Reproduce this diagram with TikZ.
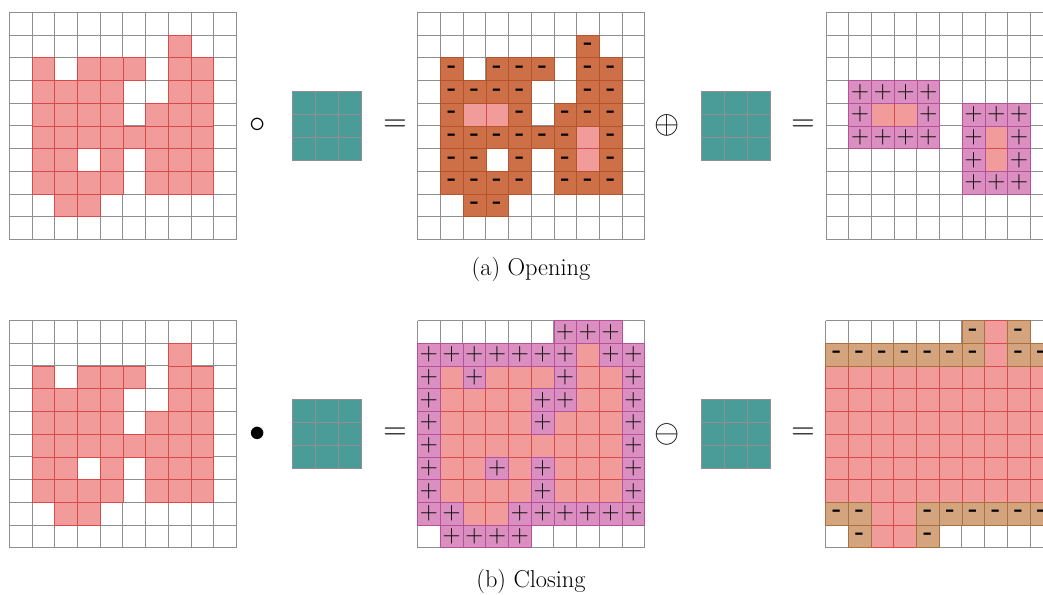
\documentclass[tikz,border=0pt]{standalone}
\usepackage{fontspec}
\definecolor{pinkc}{HTML}{F19B9B}
\definecolor{pinkline}{HTML}{D94A4A}
\definecolor{orangec}{HTML}{CD7048}
\definecolor{orangeline}{HTML}{B4532C}
\definecolor{magc}{HTML}{DB8FC0}
\definecolor{magline}{HTML}{B5519A}
\definecolor{tanc}{HTML}{D4A47E}
\definecolor{tanline}{HTML}{A8713F}
\definecolor{tealc}{HTML}{4A9C98}
\definecolor{gridc}{HTML}{8F8F8F}
\newcommand\cs{22.72}
\tikzset{
  gridline/.style={draw=gridc, line width=0.9pt},
  pinkcell/.style={fill=pinkc, draw=pinkline, line width=0.6pt},
  minuscell/.style={fill=orangec, draw=orangeline, line width=0.6pt},
  pluscell/.style={fill=magc, draw=magline, line width=0.6pt},
  tancell/.style={fill=tanc, draw=tanline, line width=0.6pt},
  secell/.style={fill=tealc, draw=gridc, line width=0.9pt},
  marktext/.style={inner sep=0pt, font=\fontsize{24}{24}\selectfont\bfseries, text=black},
  optext/.style={inner sep=0pt, font=\fontsize{24.88}{25}\selectfont, scale=1.3},
  captext/.style={inner sep=0pt, font=\fontsize{24.4}{29}\selectfont}
}
% grid lines: #1 x, #2 y
\newcommand\mygridlines[2]{%
  \foreach \k in {0,...,10}{
    \draw[gridline] ({#1+\k*\cs},{#2}) -- ({#1+\k*\cs},{#2+10*\cs});
    \draw[gridline] ({#1},{#2+\k*\cs}) -- ({#1+10*\cs},{#2+\k*\cs});
  }}
% cells: #1 x, #2 y, #3 style, #4 list macro
\newcommand\mycellfill[4]{%
  \foreach \ci/\cj in #4{
    \path[#3] ({#1+\ci*\cs},{#2+\cj*\cs}) rectangle ++(\cs,\cs);
  }}
% marks: #1 x, #2 y, #3 text, #4 list macro, #5 name prefix
\newcommand\mycellmarks[5]{%
  \foreach \ci/\cj in #4{
    \node[marktext] (#5-\ci-\cj) at ({#1+(\ci+0.5)*\cs},{#2+(\cj+0.5)*\cs}) {#3};
  }}
\newcommand\mystrel[3]{%
  \foreach \ci in {0,1,2}{\foreach \cj in {0,1,2}{
    \path[secell] ({#1+\ci*23},{#2+\cj*23}) rectangle ++(23,23);
  }}
  \coordinate (#3) at ({#1+34.5},{#2+34.5});}
\newcommand\Aset{7/1, 1/2,3/2,4/2,5/2,7/2,8/2, 1/3,2/3,3/3,4/3,7/3,8/3, 1/4,2/4,3/4,4/4,6/4,7/4,8/4, 1/5,2/5,3/5,4/5,5/5,6/5,7/5,8/5, 1/6,2/6,4/6,6/6,7/6,8/6, 1/7,2/7,3/7,4/7,6/7,7/7,8/7, 2/8,3/8}
\newcommand\Eset{2/4,3/4,7/5,7/6}
\newcommand\Erem{7/1, 1/2,3/2,4/2,5/2,7/2,8/2, 1/3,2/3,3/3,4/3,7/3,8/3, 1/4,4/4,6/4,7/4,8/4, 1/5,2/5,3/5,4/5,5/5,6/5,8/5, 1/6,2/6,4/6,6/6,8/6, 1/7,2/7,3/7,4/7,6/7,7/7,8/7, 2/8,3/8}
\newcommand\Oadd{1/3,2/3,3/3,4/3, 1/4,4/4, 1/5,2/5,3/5,4/5, 6/4,7/4,8/4, 6/5,8/5, 6/6,8/6, 6/7,7/7,8/7}
\newcommand\Cadd{6/0,7/0,8/0, 0/1,1/1,2/1,3/1,4/1,5/1,6/1,8/1,9/1, 0/2,2/2,6/2,9/2, 0/3,5/3,6/3,9/3, 0/4,5/4,9/4, 0/5,9/5, 0/6,3/6,5/6,9/6, 0/7,5/7,9/7, 0/8,1/8,4/8,5/8,6/8,7/8,8/8,9/8, 1/9,2/9,3/9,4/9}
\newcommand\Cpink{7/0, 7/1, 0/2,1/2,2/2,3/2,4/2,5/2,6/2,7/2,8/2,9/2, 0/3,1/3,2/3,3/3,4/3,5/3,6/3,7/3,8/3,9/3, 0/4,1/4,2/4,3/4,4/4,5/4,6/4,7/4,8/4,9/4, 0/5,1/5,2/5,3/5,4/5,5/5,6/5,7/5,8/5,9/5, 0/6,1/6,2/6,3/6,4/6,5/6,6/6,7/6,8/6,9/6, 0/7,1/7,2/7,3/7,4/7,5/7,6/7,7/7,8/7,9/7, 2/8,3/8, 2/9,3/9}
\newcommand\Crem{6/0,8/0, 0/1,1/1,2/1,3/1,4/1,5/1,6/1,8/1,9/1, 0/8,1/8,4/8,5/8,6/8,7/8,8/8,9/8, 1/9,4/9}
\begin{document}
\begin{tikzpicture}[x=1pt,y=-1pt]
\useasboundingbox (0,0) rectangle (1043,594);
\begin{scope}
\clip (0,0) rectangle (1043,594);
% ---- (a) Opening ----
\mygridlines{9.3}{12.3}
\mycellfill{9.3}{12.3}{pinkcell}{\Aset}
\mygridlines{417.7}{12.3}
\mycellfill{417.7}{12.3}{pinkcell}{\Eset}
\mycellfill{417.7}{12.3}{minuscell}{\Erem}
\mycellmarks{417.7}{12.3}{-}{\Erem}{em}
\mygridlines{826}{12.3}
\mycellfill{826}{12.3}{pinkcell}{\Eset}
\mycellfill{826}{12.3}{pluscell}{\Oadd}
\mycellmarks{826}{12.3}{$+$}{\Oadd}{op}
\mystrel{292.5}{91.2}{se1}
\mystrel{701}{91.2}{se2}
% ---- (b) Closing ----
\mygridlines{9.3}{320.5}
\mycellfill{9.3}{320.5}{pinkcell}{\Aset}
\mygridlines{417.5}{320.5}
\mycellfill{417.5}{320.5}{pinkcell}{\Aset}
\mycellfill{417.5}{320.5}{pluscell}{\Cadd}
\mycellmarks{417.5}{320.5}{$+$}{\Cadd}{cl}
\mygridlines{825.5}{320.5}
\mycellfill{825.5}{320.5}{pinkcell}{\Cpink}
\mycellfill{825.5}{320.5}{tancell}{\Crem}
\mycellmarks{825.5}{320.5}{-}{\Crem}{cm}
\mystrel{292.5}{399.5}{se3}
\mystrel{701}{399.5}{se4}
\end{scope}
% operators
\node[optext] (op1) at (258,125.7) {$\circ$};
\node[optext] (eq1) at (395,125.7) {$=$};
\node[optext] (op2) at (667,125.7) {$\oplus$};
\node[optext] (eq2) at (803,125.7) {$=$};
\node[optext] (op3) at (258,434) {$\bullet$};
\node[optext] (eq3) at (395,434) {$=$};
\node[optext] (op4) at (667,434) {$\ominus$};
\node[optext] (eq4) at (803,434) {$=$};
% captions
\node[captext] (capa) at (531,269) {(a) Opening};
\node[captext] (capb) at (531,581) {(b) Closing};
\end{tikzpicture}
\end{document}
